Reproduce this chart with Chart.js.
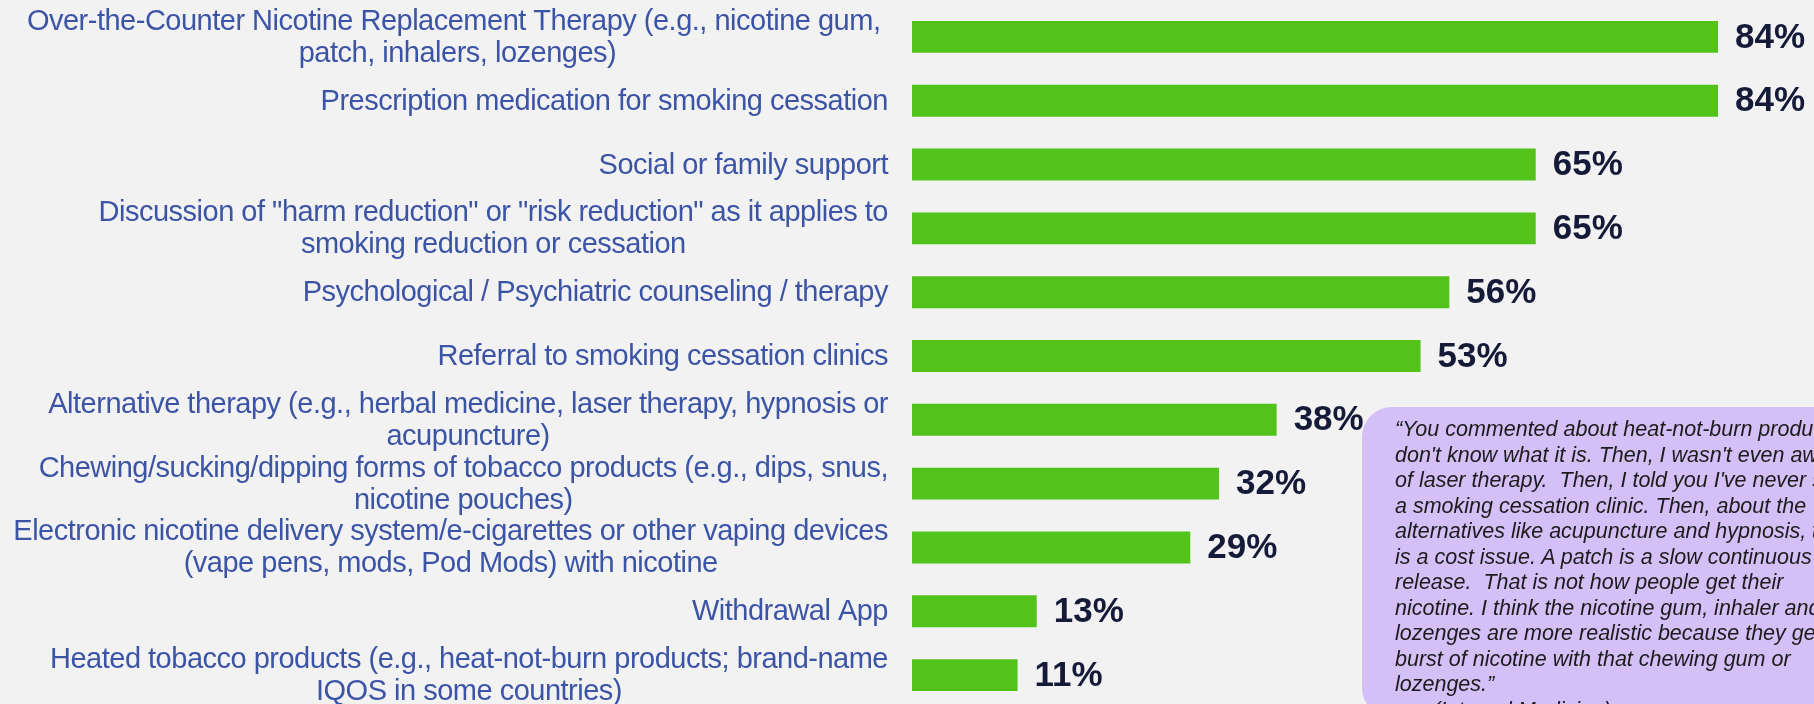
<!DOCTYPE html>
<html>
<head>
<meta charset="utf-8">
<script src="https://cdn.jsdelivr.net/npm/chart.js@4.4.1/dist/chart.umd.min.js"></script>
<style>
  html, body {
    margin: 0;
    padding: 0;
    background: #f2f2f2;
    overflow: hidden;
    width: 1814px;
    height: 704px;
  }
  #wrap {
    position: absolute;
    left: 0;
    top: 0;
    width: 1814px;
    height: 710px;
  }
  #quote {
    position: absolute;
    left: 1362px;
    top: 407px;
    width: 620px;
    height: 311px;
    box-sizing: border-box;
    padding: 10px 0 0 33px;
    border-radius: 30px;
    background: #d4bff6;
    color: #1b1b1b;
    font-family: "Liberation Sans", Arial, sans-serif;
    font-style: italic;
    font-size: 21.5px;
    line-height: 25.5px;
    white-space: nowrap;
  }
</style>
</head>
<body>
<div id="wrap">
  <canvas id="grafico" width="1814" height="710"></canvas>
</div>
<div id="quote">“You commented about heat-not-burn products, I<br>don't know what it is. Then, I wasn't even aware<br>of laser therapy.&nbsp; Then, I told you I've never seen<br>a smoking cessation clinic. Then, about the<br>alternatives like acupuncture and hypnosis, that<br>is a cost issue. A patch is a slow continuous<br>release.&nbsp; That is not how people get their<br>nicotine. I think the nicotine gum, inhaler and<br>lozenges are more realistic because they get a<br>burst of nicotine with that chewing gum or<br>lozenges.”<br><span style="padding-left:38px">(Internal Medicine)</span></div>

<script>
// categorias (cada una puede ir en varias lineas)
const categorias = [
    ['Over-the-Counter Nicotine Replacement Therapy (e.g., nicotine gum, ', 'patch, inhalers, lozenges)'],
    ['Prescription medication for smoking cessation'],
    ['Social or family support'],
    ['Discussion of "harm reduction" or "risk reduction" as it applies to', 'smoking reduction or cessation'],
    ['Psychological / Psychiatric counseling / therapy'],
    ['Referral to smoking cessation clinics'],
    ['Alternative therapy (e.g., herbal medicine, laser therapy, hypnosis or', 'acupuncture)'],
    ['Chewing/sucking/dipping forms of tobacco products (e.g., dips, snus,', 'nicotine pouches)'],
    ['Electronic nicotine delivery system/e-cigarettes or other vaping devices', '(vape pens, mods, Pod Mods) with nicotine'],
    ['Withdrawal App'],
    ['Heated tobacco products (e.g., heat-not-burn products; brand-name', 'IQOS in some countries)']
];

// porcentaje de respuestas
const porcentajes = [84, 84, 65, 65, 56, 53, 38, 32, 29, 13, 11];

const colorBarra = '#53c31b';
const colorEtiqueta = '#3b54a6';
const colorValor = '#151a38';

// etiquetas del eje y: bloque alineado a la derecha, lineas centradas entre si
const etiquetasEjeY = {
    id: 'etiquetasEjeY',
    afterDraw(chart) {
        const ctx = chart.ctx;
        const y = chart.scales.y;
        const derecha = chart.chartArea.left - 24;
        const alto = 32;
        ctx.save();
        ctx.font = '29px "Liberation Sans", Arial, sans-serif';
        ctx.letterSpacing = '-0.5px';
        ctx.fillStyle = colorEtiqueta;
        ctx.textAlign = 'center';
        ctx.textBaseline = 'middle';
        categorias.forEach(function(lineas, i) {
            const centro = y.getPixelForValue(i);
            const ancho = Math.max(...lineas.map(l => ctx.measureText(l).width));
            const x = derecha - ancho / 2;
            const inicio = centro + 1 - (lineas.length - 1) * alto / 2;
            lineas.forEach(function(linea, j) {
                ctx.fillText(linea, x, inicio + j * alto);
            });
        });
        ctx.restore();
    }
};

// valor al final de cada barra
const valoresBarras = {
    id: 'valoresBarras',
    afterDatasetsDraw(chart) {
        const ctx = chart.ctx;
        const meta = chart.getDatasetMeta(0);
        ctx.save();
        ctx.font = 'bold 35px "Liberation Sans", Arial, sans-serif';
        ctx.fillStyle = colorValor;
        ctx.textAlign = 'left';
        ctx.textBaseline = 'middle';
        meta.data.forEach(function(barra, i) {
            ctx.fillText(porcentajes[i] + '%', barra.x + 17, barra.y + 1);
        });
        ctx.restore();
    }
};

const ctx = document.getElementById('grafico').getContext('2d');
new Chart(ctx, {
    type: 'bar',
    data: {
        labels: categorias,
        datasets: [{
            label: 'Porcentaje',
            data: porcentajes,
            backgroundColor: colorBarra,
            borderWidth: 0,
            barPercentage: 0.5,
            categoryPercentage: 1
        }]
    },
    options: {
        indexAxis: 'y',
        responsive: false,
        animation: false,
        layout: {
            padding: { top: 5, bottom: 3, left: 0, right: 0 }
        },
        plugins: {
            legend: { display: false },
            tooltip: { enabled: false }
        },
        scales: {
            x: {
                display: false,
                min: 0,
                max: 94
            },
            y: {
                grid: { display: false },
                border: { display: false },
                ticks: { display: false },
                afterFit: function(scale) {
                    scale.width = 912;
                }
            }
        }
    },
    plugins: [etiquetasEjeY, valoresBarras]
});
</script>
</body>
</html>
